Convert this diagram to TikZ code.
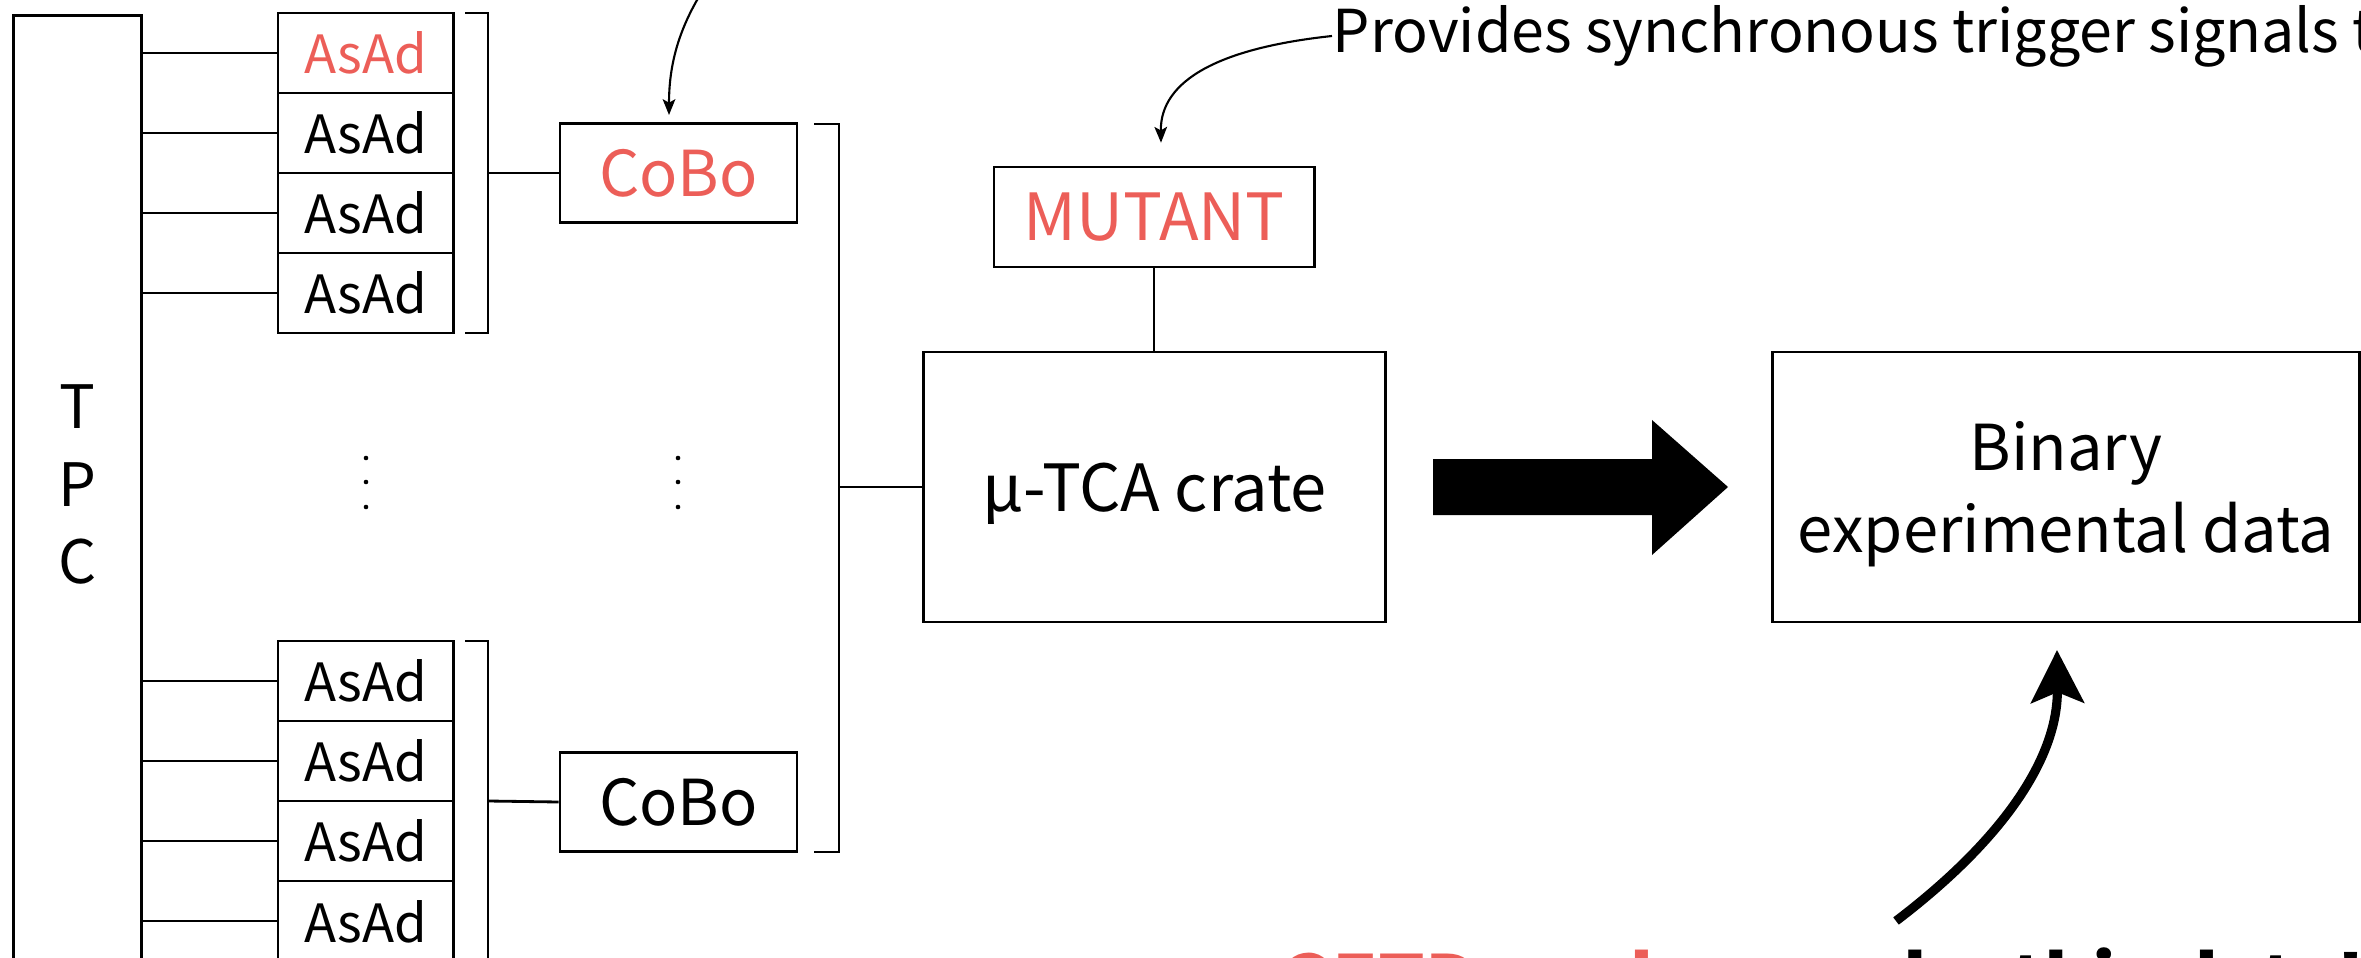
\documentclass[tikz,border=0pt]{standalone}
\usepackage{fontspec}
\setmainfont{Noto Sans CJK KR}
\usetikzlibrary{arrows.meta}
\definecolor{hl}{RGB}{236,94,88}
\begin{document}
\begin{tikzpicture}[x=0.01cm,y=-0.01cm,
  box/.style={draw, line width=0.8pt, inner sep=0pt, anchor=center, text depth=0pt},
  asad/.style={box, minimum width=1.755cm, minimum height=0.8cm, font=\fontsize{15}{18}\selectfont},
  cobo/.style={box, minimum width=2.37cm, minimum height=0.99cm, font=\fontsize{18}{21}\selectfont},
  lbl/.style={inner sep=0pt, font=\fontsize{17}{20}\selectfont},
  wire/.style={line width=0.8pt},
  thinwire/.style={line width=0.6pt},
  note/.style={line width=0.6pt, -{Stealth[length=4.5pt,width=3.6pt,inset=1pt]}},
  big/.style={inner sep=0pt, font=\fontsize{20.8}{24}\selectfont\bfseries}
]
\useasboundingbox (0,0) rectangle (2361,958);
\clip (0,0) rectangle (2361,958);

% detector column
\node[box, minimum width=1.28cm, minimum height=11cm, anchor=north] (tpc) at (77.5,14) {};
\node[lbl] (tpcT) at (77.5,407) {T};
\node[lbl] (tpcP) at (77.5,485) {P};
\node[lbl] (tpcC) at (77.5,562) {C};

% upper group of AsAd boards
\node[asad, text=hl] (a1) at (365.75,53) {AsAd};
\node[asad] (a2) at (365.75,133) {AsAd};
\node[asad] (a3) at (365.75,213) {AsAd};
\node[asad] (a4) at (365.75,293) {AsAd};
% lower group of AsAd boards
\node[asad] (b1) at (365.75,681) {AsAd};
\node[asad] (b2) at (365.75,761) {AsAd};
\node[asad] (b3) at (365.75,841) {AsAd};
\node[asad] (b4) at (365.75,921) {AsAd};

\foreach \n in {a1,a2,a3,a4,b1,b2,b3,b4}
  \draw[wire] (tpc.east |- \n.west) -- (\n.west);

% brackets gathering four AsAd boards
\draw[wire] (465,13) -- (488,13) -- (488,333) -- (465,333);
\draw[wire] (465,641) -- (488,641) -- (488,961) -- (465,961);
\coordinate (g1) at (488,173);
\coordinate (g2) at (488,801);

% CoBo boards
\node[cobo, text=hl] (c1) at (678.5,173) {CoBo};
\node[cobo] (c2) at (678.5,802) {CoBo};
\draw[wire] (g1) -- (c1.west);
\draw[wire] (g2) -- (c2.west);

% omitted boards
\foreach \x in {366,678}
  \foreach \y in {458,482,507}
    \fill (\x,\y) circle (2.3);

% bracket gathering the CoBo boards
\draw[thinwire] (814,124) -- (839,124) -- (839,852) -- (814,852);
\coordinate (g3) at (839,487);

% crate and trigger module
\node[box, minimum width=4.61cm, minimum height=2.7cm, font=\fontsize{18.5}{22}\selectfont] (crate) at (1154.5,487) {μ-TCA crate};
\node[box, minimum width=3.2cm, minimum height=1.0cm, text=hl, font=\fontsize{18.5}{21}\selectfont] (mutant) at (1154,217) {MUTANT};
\draw[wire] (g3) -- (crate.west);
\draw[thinwire] (mutant.south) -- (mutant.south |- crate.north);

% output data
\node[box, minimum width=5.86cm, minimum height=2.7cm, align=center, font=\fontsize{18}{23.3}\selectfont] (bin) at (2066,487) {Binary\\experimental data};
\fill (1433,459) -- (1652,459) -- (1652,420) -- (1728,487) -- (1652,555) -- (1652,515) -- (1433,515) -- cycle;

% annotations
\coordinate (n1) at (700,-5);
\draw[note] (n1) .. controls (676,35) and (669,70) .. ([yshift=2pt]c1.north -| 669,0);
\node[lbl, anchor=west, font=\fontsize{16.8}{19}\selectfont] (prov) at (1332,36) {Provides synchronous trigger signals to};
\draw[note] (prov.west) .. controls (1220,48) and (1160,80) .. ([yshift=6.5pt]mutant.north -| 1161,0);

\coordinate (tail) at (1896,921);
\coordinate (tipB) at (2057,650);
\draw[line width=2.6pt, -{Stealth[length=15pt,width=15pt,inset=3pt]}] (tail) .. controls (2000,842) and (2058,760) .. (tipB);

\node[big, text=hl, anchor=base west] (dec) at (1278,1008) {GETDecoder};
\node[big, anchor=base west] (by) at (1903,1008) {by this data!!};
\end{tikzpicture}
\end{document}
